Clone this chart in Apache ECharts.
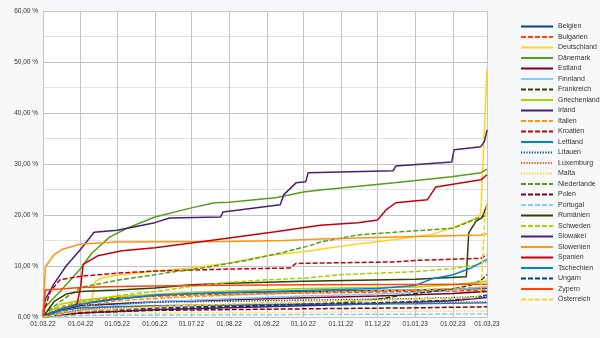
<!DOCTYPE html>
<html>
<head>
<meta charset="utf-8">
<script src="https://cdn.jsdelivr.net/npm/echarts@6/dist/echarts.min.js"></script>
<style>
  html, body { margin: 0; padding: 0; background: #f7f8fa; }
  #chart { width: 600px; height: 338px; }
</style>
</head>
<body>
<div id="chart"></div>
<script>
// Daily axis from 01.03.2022 to 01.03.2023
const startDate = new Date(Date.UTC(2022, 2, 1));
const endDate = new Date(Date.UTC(2023, 2, 1));
const days = [];
for (let d = new Date(startDate); d <= endDate; d.setUTCDate(d.getUTCDate() + 1)) {
  days.push(d.toISOString().slice(0, 10));
}

// Y axis ticks (percent)
const yTicks = [0, 10, 20, 30, 40, 50, 60];

// Cumulative shares per country, [date, percent]
const belgien = [['2022-03-01',0],['2022-03-10',1.0],['2022-04-01',2.6],['2022-05-01',3.6],['2022-06-01',4.2],['2022-07-01',4.6],['2022-09-01',4.9],['2022-11-01',5.1],['2023-01-01',5.3],['2023-03-01',5.6]];
const bulgarien = [['2022-03-01',0],['2022-03-10',1.5],['2022-04-01',3.0],['2022-05-01',3.8],['2022-07-01',4.3],['2022-10-01',4.7],['2023-01-01',5.0],['2023-03-01',5.2]];
const deutschland = [['2022-03-01',0],['2022-03-15',1.5],['2022-04-01',2.5],['2022-04-10',3.3],['2022-04-13',7.0],['2022-04-20',7.8],['2022-05-01',8.2],['2022-06-01',9.0],['2022-07-01',9.6],['2022-08-01',10.6],['2022-09-01',12.0],['2022-10-01',12.8],['2022-10-15',13.3],['2022-11-08',14.1],['2022-12-19',15.3],['2023-01-15',16.2],['2023-02-03',17.7],['2023-02-22',19.6],['2023-02-24',20.5],['2023-03-01',48.7]];
const daenemark = [['2022-03-01',0.5],['2022-03-03',2.0],['2022-03-15',5.0],['2022-04-01',9.5],['2022-04-10',12.5],['2022-04-25',15.7],['2022-05-10',17.5],['2022-06-01',19.6],['2022-07-01',21.4],['2022-07-20',22.4],['2022-08-01',22.5],['2022-09-08',23.4],['2022-10-01',24.5],['2022-10-15',24.9],['2022-12-15',26.3],['2023-01-31',27.5],['2023-02-24',28.3],['2023-03-01',29.0]];
const estland = [['2022-03-01',0],['2022-03-15',1.2],['2022-04-01',2.2],['2022-06-01',3.0],['2022-09-01',3.6],['2022-12-01',4.1],['2023-02-01',4.6],['2023-03-01',5.0]];
const finnland = [['2022-03-01',0],['2022-04-01',1.4],['2022-05-01',2.3],['2022-06-01',3.0],['2022-08-01',3.6],['2022-10-01',4.1],['2022-12-01',4.5],['2023-01-01',4.8],['2023-02-01',5.3],['2023-03-01',6.0]];
const frankreich = [['2022-03-01',0],['2022-04-01',0.8],['2022-06-01',1.5],['2022-09-01',2.2],['2022-11-01',2.8],['2022-12-01',3.5],['2022-12-20',4.2],['2023-01-01',4.6],['2023-01-15',5.0],['2023-02-01',5.5],['2023-02-15',6.2],['2023-02-24',7.2],['2023-03-01',8.3]];
const griechenland = [['2022-03-01',0],['2022-03-15',2.5],['2022-04-01',3.3],['2022-05-01',4.0],['2022-07-01',4.8],['2022-10-01',5.6],['2023-01-01',5.9],['2023-02-01',6.3],['2023-03-01',7.0]];
const irland = [['2022-03-01',0],['2022-04-01',0.8],['2022-06-01',1.4],['2022-09-01',2.0],['2022-12-01',2.6],['2023-02-01',3.2],['2023-03-01',3.8]];
const italien = [['2022-03-01',0],['2022-04-01',2.0],['2022-05-01',3.2],['2022-07-01',4.0],['2022-10-01',4.8],['2023-01-01',5.3],['2023-03-01',5.8]];
const kroatien = [['2022-03-01',0.5],['2022-03-07',5.0],['2022-03-15',7.3],['2022-04-01',8.0],['2022-05-01',8.6],['2022-06-01',9.0],['2022-08-01',9.4],['2022-09-20',9.6],['2022-09-25',10.5],['2022-12-15',10.8],['2023-01-01',11.1],['2023-02-24',11.5],['2023-03-01',12.2]];
const lettland = [['2022-03-01',0],['2022-03-15',1.2],['2022-04-01',1.8],['2022-06-01',2.2],['2022-10-01',2.5],['2023-01-01',2.6],['2023-03-01',2.8]];
const litauen = [['2022-03-01',0],['2022-03-15',1.5],['2022-04-01',2.3],['2022-06-01',2.9],['2022-10-01',3.3],['2023-01-01',3.6],['2023-03-01',4.0]];
const luxemburg = [['2022-03-01',0],['2022-04-01',1.5],['2022-06-01',2.2],['2022-10-01',2.6],['2023-01-01',2.8],['2023-03-01',3.0]];
const malta = [['2022-03-01',0],['2022-04-01',0.5],['2022-07-01',0.8],['2022-11-01',1.0],['2023-03-01',1.2]];
const niederlande = [['2022-03-01',0.3],['2022-03-15',3.0],['2022-04-01',5.8],['2022-05-01',7.2],['2022-06-15',8.8],['2022-07-15',9.8],['2022-08-15',11.1],['2022-09-15',12.7],['2022-10-08',14.1],['2022-10-15',14.7],['2022-11-15',16.1],['2022-12-20',16.7],['2023-02-01',17.4],['2023-02-22',19.4],['2023-03-01',20.0]];
const polen = [['2022-03-01',0],['2022-04-01',0.8],['2022-06-01',1.3],['2022-10-01',1.6],['2023-01-01',1.8],['2023-03-01',2.0]];
const portugal = [['2022-03-01',0],['2022-04-01',0.3],['2022-07-01',0.4],['2022-11-01',0.5],['2023-03-01',0.6]];
const rumaenien = [['2022-03-01',0],['2022-03-10',3.0],['2022-03-20',4.5],['2022-04-01',5.0],['2022-05-01',5.3],['2022-06-01',5.7],['2022-07-01',6.3],['2022-08-01',6.6],['2022-10-01',7.0],['2023-01-01',7.4],['2023-02-12',7.9],['2023-02-14',16.5],['2023-02-20',18.8],['2023-02-25',19.5],['2023-03-01',22.0]];
const schweden = [['2022-03-01',0],['2022-03-15',2.0],['2022-04-01',3.0],['2022-05-01',4.2],['2022-06-01',5.0],['2022-07-01',6.0],['2022-08-01',6.8],['2022-09-01',7.3],['2022-10-01',7.6],['2022-11-01',8.3],['2022-12-01',8.6],['2023-01-01',8.9],['2023-02-01',9.5],['2023-02-20',10.2],['2023-03-01',10.8]];
const slowakei = [['2022-03-01',1.0],['2022-03-03',3.5],['2022-03-10',6.5],['2022-03-20',10.0],['2022-04-01',13.3],['2022-04-12',16.6],['2022-05-01',17.0],['2022-06-01',18.5],['2022-06-13',19.4],['2022-07-25',19.6],['2022-07-27',20.6],['2022-09-12',22.0],['2022-09-15',24.0],['2022-09-25',26.3],['2022-10-03',26.5],['2022-10-05',28.3],['2022-12-14',28.7],['2022-12-16',29.6],['2023-01-31',30.4],['2023-02-02',32.8],['2023-02-24',33.4],['2023-02-27',34.5],['2023-03-01',36.7]];
const slowenien = [['2022-03-01',0.5],['2022-03-03',9.8],['2022-03-10',12.2],['2022-03-17',13.3],['2022-04-01',14.3],['2022-05-01',14.7],['2022-08-01',14.8],['2022-09-15',15.0],['2022-10-15',15.3],['2023-01-01',15.8],['2023-02-24',16.1],['2023-03-01',16.3]];
const spanien = [['2022-03-01',0.2],['2022-03-15',1.5],['2022-03-29',2.5],['2022-04-01',6.0],['2022-04-03',10.3],['2022-04-15',12.0],['2022-05-05',13.0],['2022-06-01',13.6],['2022-07-01',14.5],['2022-08-01',15.5],['2022-09-08',16.7],['2022-10-15',18.0],['2022-11-15',18.5],['2022-12-01',19.0],['2022-12-08',21.0],['2022-12-16',22.4],['2023-01-11',23.0],['2023-01-18',25.5],['2023-02-24',26.9],['2023-03-01',27.9]];
const tschechien = [['2022-03-01',0],['2022-03-15',1.5],['2022-04-01',2.5],['2022-05-01',3.5],['2022-06-01',4.3],['2022-08-01',4.8],['2022-10-01',5.2],['2022-12-01',5.6],['2023-01-01',6.2],['2023-01-15',7.5],['2023-02-01',8.3],['2023-02-15',9.5],['2023-03-01',11.3]];
const ungarn = [['2022-03-01',0],['2022-04-01',1.2],['2022-06-01',1.8],['2022-09-01',2.3],['2022-12-01',2.8],['2023-02-01',3.3],['2023-03-01',4.3]];
const zypern = [['2022-03-01',0],['2022-03-03',5.3],['2022-03-15',5.5],['2022-04-01',5.8],['2022-05-01',6.0],['2022-07-01',6.2],['2022-10-01',6.3],['2023-03-01',6.4]];
const oesterreich = [['2022-03-01',0],['2022-04-01',1.2],['2022-06-01',2.0],['2022-09-01',2.8],['2022-12-01',3.3],['2023-02-20',3.8],['2023-02-24',4.5],['2023-02-27',19.0],['2023-03-01',22.0]];

const DASH = [5, 2];
const DOT = [1.2, 1.5];

const seriesDefs = [
  ['Belgien', belgien, '#004586', 'solid'],
  ['Bulgarien', bulgarien, '#ff420e', DASH],
  ['Deutschland', deutschland, '#ffd320', 'solid'],
  ['Dänemark', daenemark, '#579d1c', 'solid'],
  ['Estland', estland, '#7e0021', 'solid'],
  ['Finnland', finnland, '#83caff', 'solid'],
  ['Frankreich', frankreich, '#314004', DASH],
  ['Griechenland', griechenland, '#aecf00', 'solid'],
  ['Irland', irland, '#4b1f6f', 'solid'],
  ['Italien', italien, '#ff950e', DASH],
  ['Kroatien', kroatien, '#c5000b', DASH],
  ['Lettland', lettland, '#0084d1', 'solid'],
  ['Litauen', litauen, '#004586', DOT],
  ['Luxemburg', luxemburg, '#ff420e', DOT],
  ['Malta', malta, '#ffd320', DOT],
  ['Niederlande', niederlande, '#579d1c', DASH],
  ['Polen', polen, '#7e0021', DASH],
  ['Portugal', portugal, '#83caff', DASH],
  ['Rumänien', rumaenien, '#314004', 'solid'],
  ['Schweden', schweden, '#aecf00', DASH],
  ['Slowakei', slowakei, '#4b1f6f', 'solid'],
  ['Slowenien', slowenien, '#ff950e', 'solid'],
  ['Spanien', spanien, '#c5000b', 'solid'],
  ['Tschechien', tschechien, '#0084d1', 'solid'],
  ['Ungarn', ungarn, '#004586', DASH],
  ['Zypern', zypern, '#ff420e', 'solid'],
  ['Österreich', oesterreich, '#ffd320', DASH]
];

const isMonthStart = (idx, val) => val.slice(8) === '01';
const fmtDate = v => v.slice(8, 10) + '.' + v.slice(5, 7) + '.' + v.slice(2, 4);
const FONT = 'Liberation Sans';

const chart = echarts.init(document.getElementById('chart'), null, { renderer: 'canvas' });
chart.setOption({
  backgroundColor: '#f7f8fa',
  animation: false,
  grid: { left: 43, right: 113, top: 11, bottom: 21, backgroundColor: '#ffffff', show: true, borderWidth: 0 },
  legend: {
    type: 'plain',
    orient: 'vertical',
    left: 515,
    top: 18,
    itemWidth: 32,
    itemHeight: 8,
    itemGap: 3.5,
    itemStyle: { opacity: 0 },
    textStyle: { fontFamily: FONT, fontSize: 7, color: '#333' },
    data: seriesDefs.map(s => s[0])
  },
  xAxis: {
    type: 'category',
    data: days,
    boundaryGap: false,
    axisLine: { show: true, lineStyle: { color: '#c4c4c4', width: 1 } },
    axisTick: { show: false },
    axisLabel: {
      interval: isMonthStart,
      formatter: fmtDate,
      fontFamily: FONT, fontSize: 6.5, color: '#333', margin: 4,
      showMinLabel: true, showMaxLabel: true
    },
    splitLine: { show: true, interval: isMonthStart, lineStyle: { color: '#c4c4c4', width: 1 } }
  },
  yAxis: {
    type: 'value',
    min: yTicks[0],
    max: yTicks[yTicks.length - 1],
    interval: 10,
    axisLine: { show: true, lineStyle: { color: '#c4c4c4' } },
    axisTick: { show: false },
    axisLabel: {
      formatter: v => v.toFixed(2).replace('.', ',') + ' %',
      fontFamily: FONT, fontSize: 6.5, color: '#333', margin: 5
    },
    splitLine: { lineStyle: { color: '#c4c4c4', width: 1 } },
    minorTick: { show: false, splitNumber: 2 },
    minorSplitLine: { show: true, lineStyle: { color: '#e2e2e2', width: 1 } }
  },
  series: seriesDefs.map(([name, data, color, type]) => ({
    name,
    type: 'line',
    data,
    symbol: 'none',
    showSymbol: false,
    color,
    lineStyle: { color, width: 1.5, type },
    emphasis: { disabled: true }
  }))
});
</script>
</body>
</html>
